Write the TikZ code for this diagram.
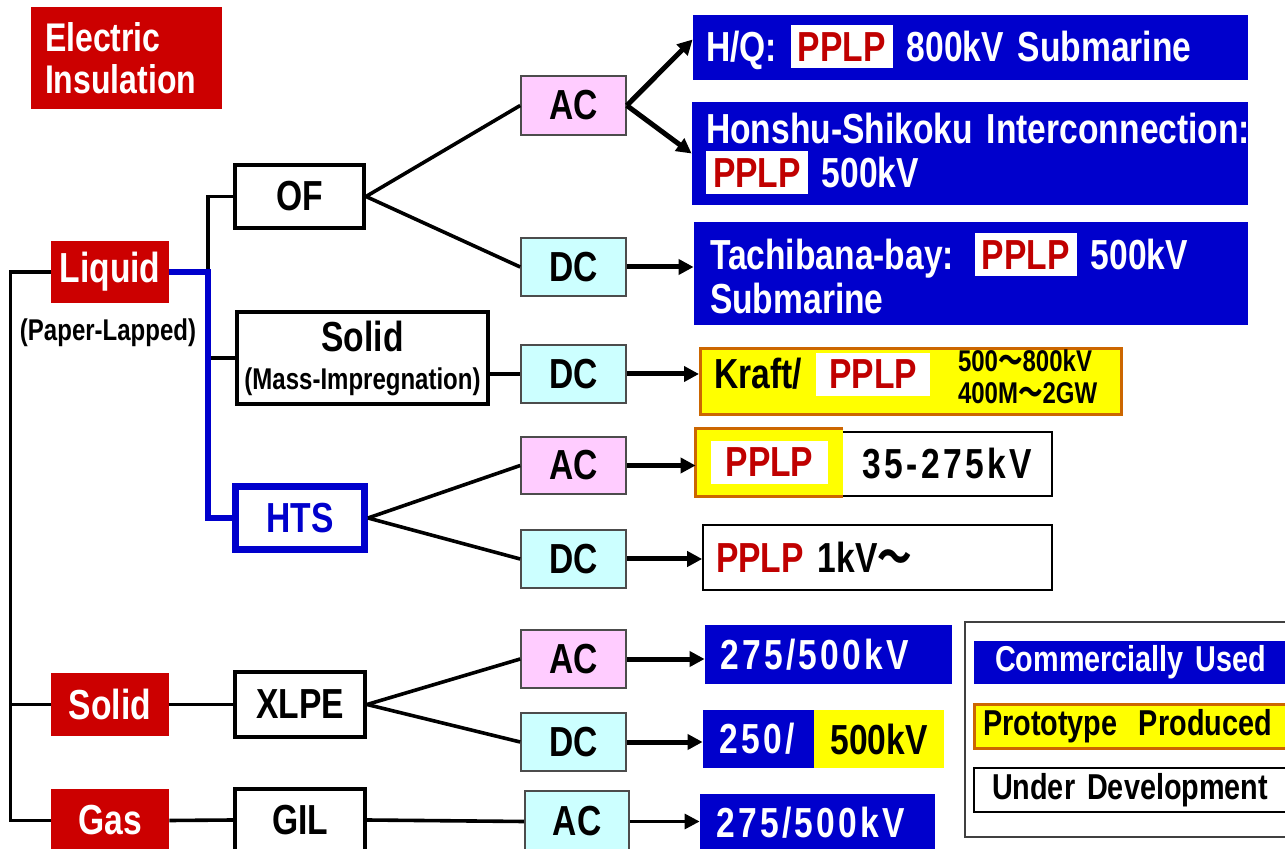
\documentclass[tikz,border=0pt]{standalone}
\usepackage{fontspec}
\setmainfont[FakeStretch=0.8,WordSpace=0.75]{Liberation Sans}
\newfontfamily\cjkfont[FakeStretch=0.82]{Noto Sans CJK JP}
\usetikzlibrary{arrows.meta}
\definecolor{insred}{HTML}{CC0000}
\definecolor{insblue}{HTML}{0000CC}
\definecolor{pplpred}{HTML}{C00000}
\definecolor{acpink}{HTML}{FFCCFF}
\definecolor{dccyan}{HTML}{CCFFFF}
\definecolor{protoyellow}{HTML}{FFFF00}
\definecolor{protoorange}{HTML}{CC6600}

\newcommand{\bigtxt}{\fontsize{21}{22}\selectfont\bfseries}
\newcommand{\legtxt}{\fontsize{18}{20}\selectfont\bfseries}
\newcommand{\smalltxt}{\fontsize{15}{16}\selectfont\bfseries}
\newcommand{\wave}{{\cjkfont 〜}}
\newcommand{\spread}{\addfontfeature{LetterSpace=8}}
\newcommand{\pplp}[1][0pt]{{\setlength{\fboxsep}{3.5pt}\colorbox{white}{\hspace{#1}\textcolor{pplpred}{PPLP}\hspace{#1}}}}

\tikzset{
  sz/.style 2 args={minimum width=#1*0.5pt,minimum height=#2*0.5pt,inner sep=0pt},
  padl/.style 2 args={text width=#1*0.5pt-#2*1pt,inner xsep=#2*0.5pt,align=left},
  redbox/.style={fill=insred,text=white,font=\bigtxt},
  kindbox/.style={draw,line width=2pt,fill=white,font=\bigtxt},
  htsbox/.style={draw=insblue,line width=3.5pt,fill=white,text=insblue,font=\bigtxt},
  acbox/.style={draw=black!70,line width=0.8pt,fill=acpink,font=\bigtxt},
  dcbox/.style={acbox,fill=dccyan},
  usedbox/.style={fill=insblue,text=white,font=\bigtxt},
  protobox/.style={draw=protoorange,line width=1.5pt,fill=protoyellow,font=\bigtxt},
  devbox/.style={draw,line width=0.8pt,fill=white,font=\bigtxt},
  conn/.style={line width=1.8pt},
  htsline/.style={line width=3pt,draw=insblue},
  arr/.style={line width=2.5pt,-{Triangle[length=7.5pt,width=7.5pt]}},
}

\begin{document}
\begin{tikzpicture}[x=0.5pt,y=-0.5pt]
\useasboundingbox (0,0) rectangle (1285,849);
\clip (0,0) rectangle (1285,849);

% insulation kinds
\node[redbox,sz={191}{102},padl={191}{14},font=\fontsize{20}{21}\selectfont\bfseries] (title) at (126.5,58) {Electric\\Insulation};
\node[redbox,sz={118}{62}] (liquid) at (110,272) {Liquid};
\node[font=\smalltxt] (paper) at (108,333) {(Paper-Lapped)};
\node[redbox,sz={118}{63}] (solid) at (110,704.5) {Solid};
\node[redbox,sz={118}{63}] (gas) at (110,820.5) {Gas};

% cable types
\node[kindbox,sz={129}{63}] (of) at (299.5,196.5) {OF};
\node[kindbox,sz={251}{92},align=center] (mi) at (362.5,358) {Solid\\[-3pt]{\smalltxt (Mass-Impregnation)}};
\node[htsbox,sz={129}{63}] (hts) at (300,518) {HTS};
\node[kindbox,sz={130}{65}] (xlpe) at (300,704.5) {XLPE};
\node[kindbox,sz={130}{63}] (gil) at (300,820) {GIL};

% AC / DC
\node[acbox,sz={105}{59}] (ac1) at (573.5,105.5) {AC};
\node[dcbox,sz={105}{58}] (dc1) at (573.5,267) {DC};
\node[dcbox,sz={105}{58}] (dc2) at (573.5,374) {DC};
\node[acbox,sz={105}{57}] (ac2) at (573.5,465.5) {AC};
\node[dcbox,sz={105}{58}] (dc3) at (573.5,559) {DC};
\node[acbox,sz={105}{58}] (ac3) at (573.5,659) {AC};
\node[dcbox,sz={105}{58}] (dc4) at (573.5,742) {DC};
\node[dcbox,sz={104}{61}] (ac4) at (577,821.5) {AC};

% results
\node[usedbox,sz={555}{65},padl={555}{13}] (hq) at (970.5,47.5) {H/Q: \pplp{} 800kV Submarine};
\node[usedbox,sz={556}{103},padl={556}{14}] (honshu) at (970,153.5) {\mbox{Honshu-Shikoku Interconnection:}\\\pplp{} 500kV};
\node[usedbox,sz={554}{103},padl={554}{16}] (tachi) at (971,273.5) {Tachibana-bay: \pplp{} 500kV\\Submarine};
\node[protobox,sz={421}{66},padl={421}{14}] (kraft) at (911,381.5) {Kraft/ \pplp[3pt]\hspace{14pt}{\smalltxt\begin{tabular}[c]{@{}l@{}}500\wave800kV\\400M\wave2GW\end{tabular}}};
\node[devbox,sz={356}{64},padl={356}{20},align=right] (pplpac) at (874,464) {\spread 35-275kV};
\node[fill=protoyellow,sz={147}{67},font=\bigtxt] (pplpacy) at (769.5,462.5) {\pplp[4pt]};
\draw[protoorange,line width=1.5pt] (pplpacy.north east) -| (pplpacy.south west) -- (pplpacy.south east);
\node[devbox,sz={349}{65},padl={349}{13}] (pplpdc) at (877.5,557.5) {\textcolor{pplpred}{PPLP} 1kV\wave};
\node[usedbox,sz={247}{59},padl={247}{15}] (xlpeac) at (828.5,654.5) {\spread 275/500kV};
\node[usedbox,sz={111}{58},padl={111}{16}] (xlpedc) at (758.5,739) {\spread 250/};
\node[fill=protoyellow,sz={130}{58},font=\bigtxt] (xlpedcy) at (879,739) {500kV};
\node[usedbox,sz={235}{58},padl={235}{16}] (gilac) at (817.5,823) {\spread 275/500kV};

% legend
\node[draw=black!75,line width=0.8pt,sz={335}{215}] (legend) at (1132.5,729.5) {};
\node[usedbox,sz={326}{43},padl={326}{21},font=\legtxt] (legused) at (1137,662.5) {Commercially Used};
\node[protobox,sz={326}{44},padl={326}{9},font=\legtxt] (legproto) at (1137,726) {Prototype\hspace{0.6em}Produced};
\node[devbox,sz={326}{44},padl={326}{18},font=\legtxt] (legdev) at (1137,790) {Under Development};

% tree
\draw[conn] (liquid.west) -- ++(-40,0) coordinate (jleft) |- (gas.west);
\draw[conn] (jleft |- solid.west) -- (solid.west);
\draw[conn] (of.west) -- ++(-25,0) |- (mi.west);
\draw[htsline] (liquid.east) -- ++(39,0) |- (hts.west);
\draw[conn] (mi.east |- dc2.west) -- (dc2.west);
\draw[conn] (of.east) -- (ac1.west);
\draw[conn] (of.east) -- (dc1.west);
\draw[conn] (hts.east) -- (ac2.west);
\draw[conn] (hts.east) -- (dc3.west);
\draw[conn] (solid.east) -- (xlpe.west);
\draw[conn] (xlpe.east) -- (ac3.west);
\draw[conn] (xlpe.east) -- (dc4.west);
\draw[conn] (gas.east) -- (gil.west);
\draw[conn] (gil.east) -- (ac4.west);

% arrows
\draw[arr] (ac1.east) -- ([yshift=4pt]hq.west);
\draw[arr] (ac1.east) -- (honshu.west);
\draw[arr] (dc1.east) -- (dc1.east -| tachi.west);
\draw[arr] (dc2.east) -- (dc2.east -| kraft.west);
\draw[arr] (ac2.east) -- (ac2.east -| pplpacy.west);
\draw[arr] (dc3.east) -- (dc3.east -| pplpdc.west);
\draw[arr] (ac3.east) -- (ac3.east -| xlpeac.west);
\draw[arr] (dc4.east) -- (dc4.east -| xlpedc.west);
\draw[arr,line width=1.6pt] (ac4.east) -- (ac4.east -| gilac.west);
\end{tikzpicture}
\end{document}
